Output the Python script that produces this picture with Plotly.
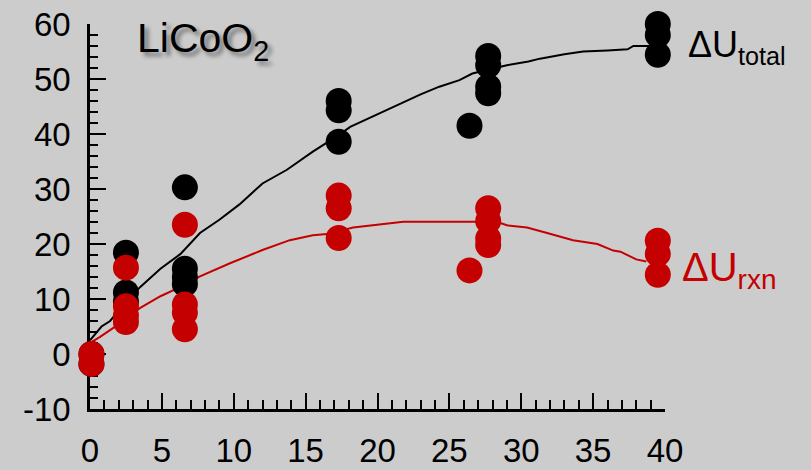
import plotly.graph_objects as go

# Measured points: ΔU_total (black) and ΔU_rxn (red)
total_x = [0.1, 0.1, 2.5, 2.5, 2.5, 6.6, 6.6, 6.6, 6.6, 17.3, 17.3, 17.3,
           26.4, 27.7, 27.7, 27.7, 27.7, 39.5, 39.5, 39.5]
total_y = [0.0, -1.8, 18.4, 11.2, 9.5, 30.3, 15.5, 14.0, 12.7, 46.0, 44.3, 38.6,
           41.5, 54.2, 52.5, 48.6, 47.4, 60.0, 58.0, 54.4]

rxn_x = [0.1, 0.1, 2.5, 2.5, 2.5, 2.5, 6.6, 6.6, 6.6, 6.6, 17.3, 17.3, 17.3,
         26.4, 27.7, 27.7, 27.7, 27.7, 39.5, 39.5, 39.5]
rxn_y = [0.0, -1.8, 15.7, 8.7, 7.0, 5.8, 23.5, 9.0, 7.5, 4.5, 28.8, 26.5, 21.1,
         15.2, 26.5, 24.2, 21.0, 19.8, 20.6, 18.2, 14.4]

# Model curves
total_line_x = [0, 0.8, 1.4, 2.5, 3.5, 4.9, 6.3, 7.65, 9.0, 10.4, 12.0, 13.7, 15.5,
                17.3, 18.1, 20.0, 21.6, 23.0, 24.3, 25.7, 26.6, 28.0, 29.0, 30.5,
                31.3, 33.0, 34.3, 36.0, 37.4, 37.8, 39.5]
total_line_y = [2.5, 5.0, 6.0, 9.5, 12.2, 15.5, 18.2, 22.0, 24.4, 27.2, 31.0, 33.5, 36.8,
                39.8, 41.3, 43.6, 45.6, 47.2, 48.6, 49.8, 51.0, 51.8, 52.5, 53.2,
                53.7, 54.5, 55.0, 55.2, 55.4, 56.0, 56.0]

rxn_line_x = [0, 0.7, 2.5, 3.5, 4.9, 6.3, 7.65, 9.74, 12.0, 13.9, 15.5, 16.5, 18.3,
              20.2, 21.8, 24.0, 26.0, 28.3, 29.0, 30.4, 31.8, 33.6, 35.3, 36.4,
              36.9, 38.0, 38.7]
rxn_line_y = [2.0, 3.1, 6.3, 8.4, 10.5, 12.2, 14.1, 16.5, 18.9, 20.7, 21.6, 21.8, 23.0,
              23.6, 24.05, 24.05, 24.05, 24.05, 23.4, 23.0, 22.0, 20.7, 20.0, 18.8,
              18.6, 17.2, 16.8]

x_ticks = [0, 5, 10, 15, 20, 25, 30, 35, 40]
x_labels = ["0", "5", "10", "15", "20", "25", "30", "35", "40"]
y_ticks = [-10, 0, 10, 20, 30, 40, 50, 60]
y_labels = ["-10", "0", "10", "20", "30", "40", "50", "60"]

BLACK = "#000000"
RED = "#c40000"
BG = "#cccccc"
FONT = "Liberation Sans, Arial, sans-serif"

fig = go.Figure()
fig.add_trace(go.Scatter(x=total_line_x, y=total_line_y, mode="lines",
                         line=dict(color=BLACK, width=2), showlegend=False, cliponaxis=False))
fig.add_trace(go.Scatter(x=rxn_line_x, y=rxn_line_y, mode="lines",
                         line=dict(color=RED, width=2), showlegend=False, cliponaxis=False))
fig.add_trace(go.Scatter(x=total_x, y=total_y, mode="markers",
                         marker=dict(color=BLACK, size=26, line=dict(width=0)),
                         showlegend=False, cliponaxis=False))
fig.add_trace(go.Scatter(x=rxn_x, y=rxn_y, mode="markers",
                         marker=dict(color=RED, size=26, line=dict(width=0)),
                         showlegend=False, cliponaxis=False))

fig.update_layout(
    width=811, height=470,
    margin=dict(l=90, r=146, t=24, b=61, autoexpand=False),
    paper_bgcolor=BG, plot_bgcolor=BG,
    font=dict(family=FONT, color=BLACK, size=33),
    xaxis=dict(range=[0, 40], tickvals=x_ticks, ticktext=x_labels, showgrid=False, zeroline=False,
               showline=True, linecolor=BLACK, linewidth=2.5, automargin=False,
               ticks="inside", ticklen=16, tickwidth=2, tickcolor=BLACK,
               minor=dict(dtick=1, ticks="inside", ticklen=9, tickwidth=2, tickcolor=BLACK),
               tickfont=dict(size=33), ticklabelstandoff=11, layer="below traces"),
    yaxis=dict(range=[-10, 60], tickvals=y_ticks, ticktext=y_labels, showgrid=False, zeroline=False,
               showline=True, linecolor=BLACK, linewidth=2.5, automargin=False,
               ticks="inside", ticklen=16, tickwidth=2, tickcolor=BLACK,
               minor=dict(dtick=2, ticks="inside", ticklen=8, tickwidth=2, tickcolor=BLACK),
               tickfont=dict(size=33), ticklabelstandoff=10, layer="below traces"),
    annotations=[
        dict(x=0.078, y=0.955, xref="paper", yref="paper", xanchor="left", yanchor="middle",
             text="LiCoO<sub>2</sub>", showarrow=False,
             font=dict(size=41, color=BLACK, family=FONT,
                       shadow="4px 4px 4px rgba(0,0,0,0.45)")),
        dict(x=1.036, y=0.94, xref="paper", yref="paper", xanchor="left", yanchor="middle",
             text="ΔU<sub>total</sub>", showarrow=False,
             font=dict(size=36, color=BLACK, family=FONT)),
        dict(x=1.026, y=0.361, xref="paper", yref="paper", xanchor="left", yanchor="middle",
             text="ΔU<sub>rxn</sub>", showarrow=False,
             font=dict(size=40, color=RED, family=FONT)),
    ],
)

fig.write_html("out.html")
